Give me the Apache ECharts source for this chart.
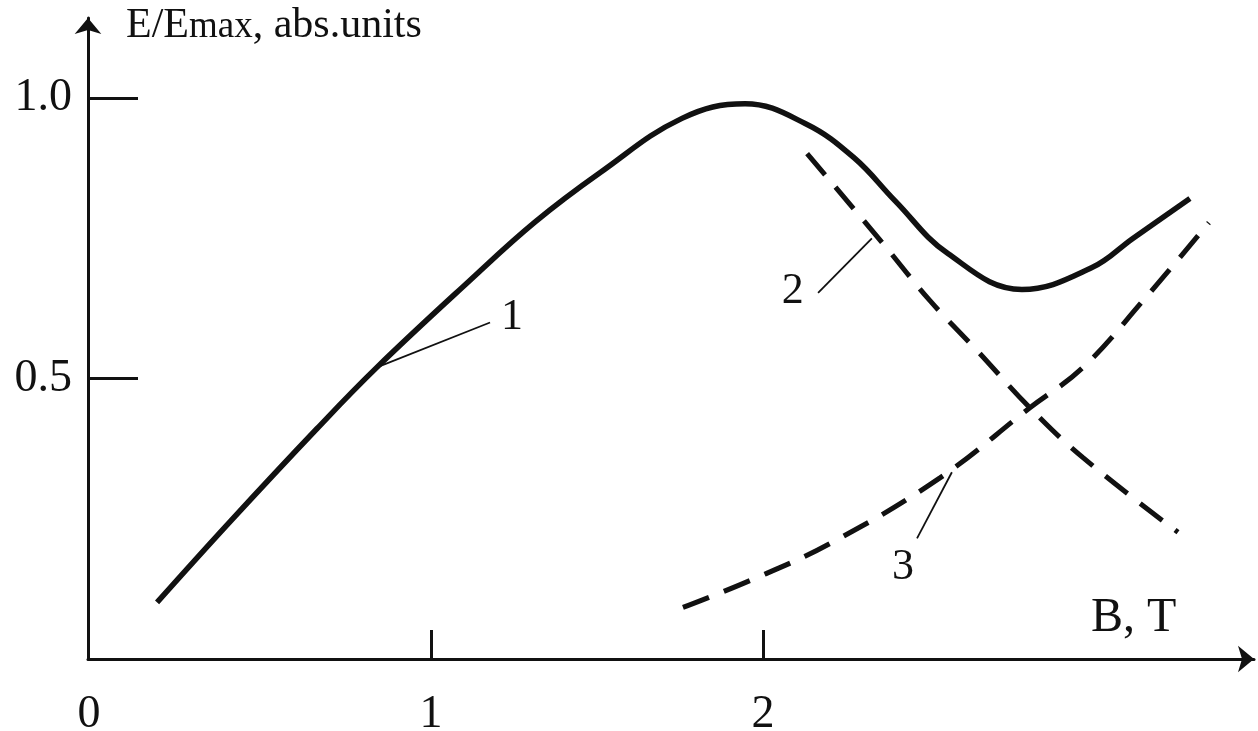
<!DOCTYPE html>
<html>
<head>
<meta charset="utf-8">
<script src="https://cdn.jsdelivr.net/npm/echarts@6/dist/echarts.min.js"></script>
<style>
html,body{margin:0;padding:0;background:#fff;overflow:hidden;}
#chart{position:absolute;left:0;top:0;width:1258px;height:731px;}
</style>
</head>
<body>
<div id="chart"></div>
<script>
// ---- data (B in T, E/Emax) ----
const curve1B = [0.175, 0.395, 0.657, 0.837, 1.117, 1.313, 1.509, 1.756, 1.946, 2.127, 2.274, 2.398, 2.557, 2.780, 2.991, 3.114, 3.286];
const curve1E = [0.101, 0.245, 0.411, 0.520, 0.675, 0.779, 0.867, 0.964, 0.990, 0.955, 0.894, 0.817, 0.723, 0.659, 0.698, 0.750, 0.821];
const curve2B = [2.133, 2.361, 2.503, 2.645, 2.804, 2.964, 3.250];
const curve2E = [0.901, 0.741, 0.639, 0.550, 0.448, 0.359, 0.226];
const curve3B = [1.759, 1.961, 2.202, 2.533, 2.804, 2.964, 3.145, 3.343];
const curve3E = [0.092, 0.140, 0.206, 0.323, 0.448, 0.520, 0.639, 0.778];
const xTickValues = [1, 2];
const xLabelValues = [0, 1, 2];
const yTickValues = [0.5, 1.0];
const curveLabels = ['1', '2', '3'];
const curveLabelB = [1.244, 2.090, 2.422];
const curveLabelE = [0.609, 0.656, 0.163];
const leaderFrom = [[0.837, 0.520], [2.166, 0.653], [2.464, 0.215]];
const leaderTo = [[1.178, 0.600], [2.328, 0.750], [2.569, 0.333]];
const yAxisTitle = ['E/E', 'max', ', abs.units'];
const xAxisTitle = 'B, T';

const zip = (a, b) => a.map((v, i) => [v, b[i]]);
const serif = '"Liberation Serif", "Times New Roman", serif';

const chart = echarts.init(document.getElementById('chart'), null, {renderer: 'canvas', width: 1258, height: 731});
chart.setOption({
  animation: false,
  backgroundColor: '#fff',
  title: [
    {
      text: '{a|' + yAxisTitle[0] + '}{m|' + yAxisTitle[1] + '}{a|' + yAxisTitle[2] + '}',
      left: 126, top: 5, padding: 0,
      textStyle: {
        fontWeight: 'normal',
        rich: {
          a: {fontFamily: serif, fontSize: 42, fontWeight: 'normal', color: '#111'},
          m: {fontFamily: serif, fontSize: 37, fontWeight: 'normal', color: '#111', padding: [3, 0, 0, 0]}
        }
      }
    },
    {
      text: xAxisTitle, left: 1091, top: 594, padding: 0,
      textStyle: {fontFamily: serif, fontSize: 48, fontWeight: 'normal', color: '#111'}
    }
  ],
  grid: {left: 88, right: 4, top: 18, bottom: 72, containLabel: false, outerBoundsMode: 'none'},
  xAxis: {
    type: 'value', min: -0.033, max: 3.479,
    splitLine: {show: false},
    axisLine: {show: true, onZero: false, symbol: ['none', 'arrow'], symbolSize: [20, 16],
      lineStyle: {color: '#111', width: 3}},
    axisTick: {show: true, inside: true, length: 29, customValues: xTickValues,
      lineStyle: {color: '#111', width: 3}},
    axisLabel: {show: true, margin: 33, customValues: xLabelValues,
      fontFamily: serif, fontSize: 46, color: '#111',
      formatter: v => v === 0 ? '{z|0}' : String(v),
      rich: {z: {fontFamily: serif, fontSize: 46, color: '#111', padding: [0, 20, 0, 0]}}}
  },
  yAxis: {
    type: 'value', min: 0, max: 1.143,
    splitLine: {show: false},
    axisLine: {show: true, onZero: false, symbol: ['none', 'arrow'], symbolSize: [20, 16],
      lineStyle: {color: '#111', width: 3}},
    axisTick: {show: true, inside: true, length: 50, customValues: yTickValues,
      lineStyle: {color: '#111', width: 3}},
    axisLabel: {show: true, margin: 16, customValues: yTickValues,
      fontFamily: serif, fontSize: 46, color: '#111',
      formatter: v => v.toFixed(1)}
  },
  series: [
    {
      type: 'line', data: zip(curve1B, curve1E), smooth: 0.4,
      showSymbol: false, lineStyle: {color: '#111', width: 5.5, cap: 'butt'}
    },
    {
      type: 'line', data: zip(curve2B, curve2E), smooth: 0.4,
      showSymbol: false, lineStyle: {color: '#111', width: 5, type: [28, 16], cap: 'butt'}
    },
    {
      type: 'line', data: zip(curve3B, curve3E), smooth: 0.4,
      showSymbol: false, lineStyle: {color: '#111', width: 5, type: [28, 16], cap: 'butt'}
    },
    {
      type: 'scatter', symbolSize: 0, itemStyle: {opacity: 1},
      data: curveLabels.map((n, i) => ({name: n, value: [curveLabelB[i], curveLabelE[i]]})),
      label: {show: true, position: 'inside', formatter: '{b}', opacity: 1,
        fontFamily: serif, fontSize: 44, color: '#111'},
      markLine: {
        silent: true, symbol: ['none', 'none'], label: {show: false},
        lineStyle: {color: '#111', width: 1.8, type: 'solid', opacity: 1},
        data: leaderFrom.map((p, i) => [{coord: p}, {coord: leaderTo[i]}])
      }
    }
  ]
});
</script>
</body>
</html>
